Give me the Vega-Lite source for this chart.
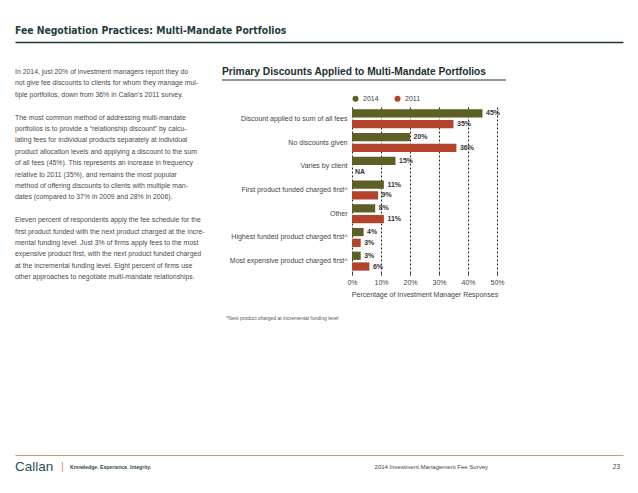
{
  "$schema": "https://vega.github.io/schema/vega-lite/v6.json",
  "background": "white",
  "padding": {"left": 15, "right": 15, "top": 19, "bottom": 5},
  "spacing": 22,
  "resolve": {"legend": {"color": "independent"}, "scale": {"color": "independent"}},
  "config": {"view": {"stroke": null}, "font": "Liberation Sans"},
  "vconcat": [
    {
      "width": 608,
      "height": 23,
      "data": {"values": [{"t": "Fee Negotiation Practices: Multi-Mandate Portfolios"}]},
      "mark": {"type": "text", "align": "left", "baseline": "middle", "font": "DejaVu Sans Condensed", "fontWeight": "bold", "fontSize": 10.3, "color": "#1f3d3f"},
      "encoding": {
        "x": {"datum": 0, "type": "quantitative", "scale": {"domain": [0, 1]}, "axis": {"orient": "bottom", "domain": true, "domainColor": "#1f3535", "domainWidth": 1.5, "labels": false, "ticks": false, "grid": false, "title": null}},
        "text": {"field": "t"}
      }
    },
    {
      "spacing": 16,
      "resolve": {"legend": {"color": "independent"}, "scale": {"color": "independent"}},
      "hconcat": [
        {
          "width": 190,
          "height": 224.6,
          "data": {"values": [
            {"line": 0, "t": "In 2014, just 20% of investment managers report they do"},
            {"line": 1, "t": "not give fee discounts to clients for whom they manage mul-"},
            {"line": 2, "t": "tiple portfolios, down from 36% in Callan's 2011 survey."},
            {"line": 4, "t": "The most common method of addressing multi-mandate"},
            {"line": 5, "t": "portfolios is to provide a \u201crelationship discount\u201d by calcu-"},
            {"line": 6, "t": "lating fees for individual products separately at individual"},
            {"line": 7, "t": "product allocation levels and applying a discount to the sum"},
            {"line": 8, "t": "of all fees (45%). This represents an increase in frequency"},
            {"line": 9, "t": "relative to 2011 (35%), and remains the most popular"},
            {"line": 10, "t": "method of offering discounts to clients with multiple man-"},
            {"line": 11, "t": "dates (compared to 37% in 2009 and 28% in 2006)."},
            {"line": 13, "t": "Eleven percent of respondents apply the fee schedule for the"},
            {"line": 14, "t": "first product funded with the next product charged at the incre-"},
            {"line": 15, "t": "mental funding level. Just 3% of firms apply fees to the most"},
            {"line": 16, "t": "expensive product first, with the next product funded charged"},
            {"line": 17, "t": "at the incremental funding level. Eight percent of firms use"},
            {"line": 18, "t": "other approaches to negotiate multi-mandate relationships."}
          ]},
          "mark": {"type": "text", "align": "left", "baseline": "middle", "fontSize": 6.9, "color": "#4a4a4a"},
          "encoding": {
            "x": {"datum": 0, "type": "quantitative", "scale": {"domain": [0, 1]}, "axis": null},
            "y": {"field": "line", "type": "quantitative", "scale": {"domain": [-0.7, 19], "reverse": true, "nice": false, "zero": false}, "axis": null},
            "text": {"field": "t"}
          }
        },
        {
          "spacing": 14,
          "resolve": {"legend": {"color": "independent"}, "scale": {"color": "independent"}},
          "vconcat": [
            {
              "width": 154,
              "height": 16,
              "layer": [
                {
                  "data": {"values": [{"t": "Primary Discounts Applied to Multi-Mandate Portfolios"}]},
                  "mark": {"type": "text", "align": "left", "baseline": "middle", "fontWeight": "bold", "fontSize": 10.2, "color": "#1b3030"},
                  "encoding": {
                    "x": {"datum": -0.844, "type": "quantitative", "scale": {"domain": [0, 1], "nice": false, "zero": false}, "axis": null},
                    "text": {"field": "t"}
                  }
                },
                {
                  "data": {"values": [{"a": -0.844, "b": 1}]},
                  "mark": {"type": "rule", "color": "#1f3535", "strokeWidth": 1.2},
                  "encoding": {
                    "x": {"field": "a", "type": "quantitative"},
                    "x2": {"field": "b"},
                    "y": {"datum": 0, "type": "quantitative", "scale": {"domain": [0, 1]}, "axis": null}
                  }
                }
              ]
            },
            {
              "width": 145,
              "height": 166,
              "data": {"values": [
                {"cat": "Discount applied to sum of all fees", "year": "2014", "value": 45, "label": "45%"},
                {"cat": "Discount applied to sum of all fees", "year": "2011", "value": 35, "label": "35%"},
                {"cat": "No discounts given", "year": "2014", "value": 20, "label": "20%"},
                {"cat": "No discounts given", "year": "2011", "value": 36, "label": "36%"},
                {"cat": "Varies by client", "year": "2014", "value": 15, "label": "15%"},
                {"cat": "Varies by client", "year": "2011", "value": null, "label": "NA"},
                {"cat": "First product funded charged first^", "year": "2014", "value": 11, "label": "11%"},
                {"cat": "First product funded charged first^", "year": "2011", "value": 9, "label": "9%"},
                {"cat": "Other", "year": "2014", "value": 8, "label": "8%"},
                {"cat": "Other", "year": "2011", "value": 11, "label": "11%"},
                {"cat": "Highest funded product charged first^", "year": "2014", "value": 4, "label": "4%"},
                {"cat": "Highest funded product charged first^", "year": "2011", "value": 3, "label": "3%"},
                {"cat": "Most expensive product charged first^", "year": "2014", "value": 3, "label": "3%"},
                {"cat": "Most expensive product charged first^", "year": "2011", "value": 6, "label": "6%"}
              ]},
              "encoding": {
                "y": {
                  "field": "cat", "type": "nominal",
                  "sort": ["Discount applied to sum of all fees", "No discounts given", "Varies by client", "First product funded charged first^", "Other", "Highest funded product charged first^", "Most expensive product charged first^"],
                  "scale": {"paddingInner": 0.2, "paddingOuter": 0.1},
                  "axis": {"title": null, "domain": false, "ticks": false, "labelPadding": 5, "labelFontSize": 7, "labelColor": "#444444", "minExtent": 130, "maxExtent": 130}
                },
                "yOffset": {"field": "year", "type": "nominal", "sort": ["2014", "2011"], "scale": {"paddingInner": 0.23, "paddingOuter": 0}}
              },
              "layer": [
                {
                  "mark": {"type": "bar"},
                  "encoding": {
                    "x": {
                      "field": "value", "type": "quantitative",
                      "scale": {"domain": [0, 50], "nice": false},
                      "axis": {
                        "values": [0, 10, 20, 30, 40, 50],
                        "tickCount": 12,
                        "labelExpr": "datum.value + '%'",
                        "title": "Percentage of Investment Manager Responses",
                        "titleFontSize": 7, "titleFontWeight": "normal", "titleColor": "#444444", "titlePadding": 5,
                        "grid": true, "gridDash": [2, 2], "gridColor": "#222222", "gridWidth": 1,
                        "domain": false, "ticks": true, "tickDash": [2, 2], "tickColor": "#222222", "tickSize": 3, "tickWidth": 1,
                        "labelFontSize": 7, "labelColor": "#444444", "labelPadding": 2, "labelFlush": false, "labelOverlap": false
                      }
                    },
                    "color": {
                      "field": "year", "type": "nominal",
                      "scale": {"domain": ["2014", "2011"], "range": ["#5d5f24", "#b3432a"]},
                      "legend": {"orient": "top", "direction": "horizontal", "title": null, "symbolType": "circle", "symbolSize": 36, "labelFontSize": 7, "labelColor": "#444444", "columnPadding": 15, "offset": 5, "padding": 0, "labelOffset": 4, "symbolStrokeWidth": 0}
                    }
                  }
                },
                {
                  "transform": [{"filter": "datum.value != null"}],
                  "mark": {"type": "text", "align": "left", "baseline": "middle", "dx": 3.5, "fontSize": 7, "fontWeight": "bold", "color": "#333333"},
                  "encoding": {
                    "x": {"field": "value", "type": "quantitative"},
                    "text": {"field": "label"}
                  }
                },
                {
                  "transform": [{"filter": "datum.value == null"}],
                  "mark": {"type": "text", "align": "left", "baseline": "middle", "dx": 3, "fontSize": 7, "fontWeight": "bold", "color": "#333333"},
                  "encoding": {
                    "x": {"datum": 0, "type": "quantitative"},
                    "text": {"field": "label"}
                  }
                }
              ]
            },
            {
              "width": 145,
              "height": 122,
              "data": {"values": [{"t": "^Next product charged at incremental funding level"}]},
              "mark": {"type": "text", "align": "left", "baseline": "middle", "fontSize": 5, "color": "#555555", "dx": -126},
              "encoding": {
                "x": {"datum": 0, "type": "quantitative", "scale": {"domain": [0, 1]}, "axis": null},
                "y": {"datum": 0.6, "type": "quantitative", "scale": {"domain": [0, 10], "reverse": true}, "axis": null},
                "text": {"field": "t"}
              }
            }
          ]
        }
      ]
    },
    {
      "width": 608,
      "height": 24,
      "layer": [
        {
          "data": {"values": [{"t": "Callan"}]},
          "mark": {"type": "text", "align": "left", "baseline": "middle", "fontSize": 13.5, "color": "#2d5258"},
          "encoding": {
            "x": {"datum": 0, "type": "quantitative", "scale": {"domain": [0, 1]}, "axis": {"orient": "top", "domainColor": "#d19c5c", "domainWidth": 1.2, "labels": false, "ticks": false, "grid": false, "title": null}},
            "text": {"field": "t"}
          }
        },
        {
          "data": {"values": [{"t": "|"}]},
          "mark": {"type": "text", "align": "left", "baseline": "middle", "dx": 46, "fontSize": 11, "color": "#d19c5c"},
          "encoding": {"x": {"datum": 0, "type": "quantitative"}, "text": {"field": "t"}}
        },
        {
          "data": {"values": [{"t": "Knowledge. Experience. Integrity."}]},
          "mark": {"type": "text", "align": "left", "baseline": "middle", "dx": 55, "fontSize": 5.1, "fontWeight": "bold", "color": "#2d4a50"},
          "encoding": {"x": {"datum": 0, "type": "quantitative"}, "text": {"field": "t"}}
        },
        {
          "data": {"values": [{"t": "2014 Investment Management Fee Survey"}]},
          "mark": {"type": "text", "align": "right", "baseline": "middle", "dx": -135, "fontSize": 6, "color": "#444444"},
          "encoding": {"x": {"datum": 1, "type": "quantitative"}, "text": {"field": "t"}}
        },
        {
          "data": {"values": [{"t": "23"}]},
          "mark": {"type": "text", "align": "right", "baseline": "middle", "dx": -3, "fontSize": 6.5, "color": "#444444"},
          "encoding": {"x": {"datum": 1, "type": "quantitative"}, "text": {"field": "t"}}
        }
      ]
    }
  ]
}
